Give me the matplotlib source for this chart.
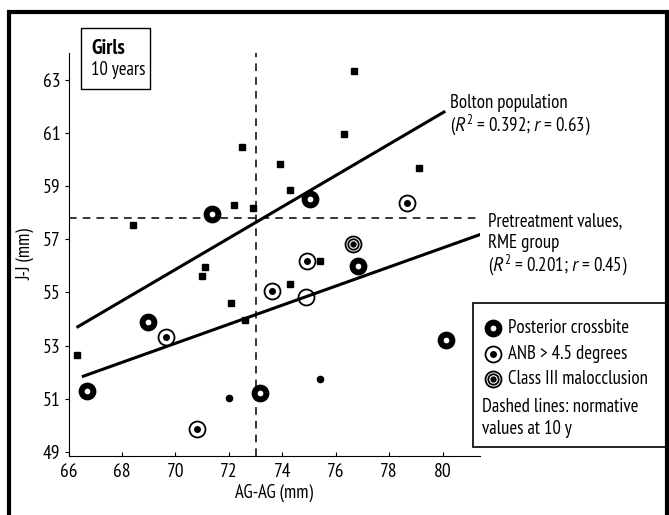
import matplotlib.pyplot as plt
from matplotlib.lines import Line2D
from matplotlib.patches import Rectangle

plt.rcParams['font.family'] = ['PT Sans Narrow', 'DejaVu Sans']
plt.rcParams['mathtext.fontset'] = 'custom'
plt.rcParams['mathtext.rm'] = 'PT Sans Narrow'
plt.rcParams['mathtext.it'] = 'PT Sans:italic'

# Bolton population (filled squares)
sq_x = [68.4, 72.5, 72.2, 72.9, 76.7, 76.3, 73.9, 74.3, 79.1, 71.1, 71.0, 72.1, 72.6, 66.3, 75.4, 74.3]
sq_y = [57.55, 60.45, 58.3, 58.17, 63.34, 60.97, 59.82, 58.85, 59.66, 55.96, 55.6, 54.62, 53.95, 52.63, 56.18, 55.33]
# RME group, no special feature (small dots)
dot_x = [72.0, 75.4]
dot_y = [51.02, 51.74]
# posterior crossbite
pc_x = [71.36, 75.02, 68.99, 66.7, 73.15, 76.82, 80.11]
pc_y = [57.93, 58.5, 53.89, 51.29, 51.23, 55.98, 53.2]
# ANB > 4.5 degrees
anb_x = [69.65, 70.8, 74.92, 73.61, 78.67]
anb_y = [53.31, 49.88, 56.18, 55.07, 58.37]
# open ring on RME line
ring_x = [74.88]
ring_y = [54.81]
# class III malocclusion
c3_x = [76.63]
c3_y = [56.81]

# regression lines (end points)
bolton_x = [66.3, 80.1]
bolton_y = [53.68, 61.81]
rme_x = [66.5, 81.5]
rme_y = [51.83, 57.21]

# normative values at 10 y
norm_x = 73.0
norm_y = 57.8

xticks = [66, 68, 70, 72, 74, 76, 78, 80]
yticks = [49, 51, 53, 55, 57, 59, 61, 63]

W, H = 669, 515
FS = 13.5


def fx(p):
    return p / W


def fy(p):
    return 1 - p / H


fig = plt.figure(figsize=(W / 100, H / 100), dpi=100)
ax = fig.add_axes([fx(68.5), fy(456), fx(480) - fx(68.5), fy(53) - fy(456)])
ax.set_xlim(66, 81.4)
ax.set_ylim(48.85, 64.0)
ax.spines['top'].set_visible(False)
ax.spines['right'].set_visible(False)
ax.set_xticks(xticks)
ax.set_yticks(yticks)
ax.tick_params(axis='x', direction='in', length=3, labelsize=14, pad=5)
ax.tick_params(axis='y', direction='out', length=3, labelsize=14, pad=3)
ax.set_xlabel('AG-AG (mm)', fontsize=FS, labelpad=2)
ax.set_ylabel('J-J (mm)', fontsize=FS, labelpad=6)

# dashed normative lines
ax.plot([norm_x, norm_x], [48.85, 64.0], 'k--', lw=1.1, dashes=(5, 4))
ax.plot([66, 81.4], [norm_y, norm_y], 'k--', lw=1.1, dashes=(5, 4))

# regression lines
ax.plot(bolton_x, bolton_y, 'k-', lw=2.2, solid_capstyle='butt')
ax.plot(rme_x, rme_y, 'k-', lw=2.2, solid_capstyle='butt')

ax.plot(sq_x, sq_y, 's', color='k', ms=4.5, ls='none')
ax.plot(dot_x, dot_y, 'o', color='k', ms=4.5, ls='none')

ring = dict(ls='none', marker='o', mfc='white', mec='k', ms=11.5, mew=1.3)
ax.plot(anb_x, anb_y, **ring)
ax.plot(anb_x, anb_y, 'o', color='k', ms=4, ls='none')
ax.plot(ring_x, ring_y, ls='none', marker='o', mfc='none', mec='k', ms=11.5, mew=1.3)
ax.plot(c3_x, c3_y, **ring)
ax.plot(c3_x, c3_y, ls='none', marker='o', mfc='white', mec='k', ms=7.5, mew=1.3)
ax.plot(c3_x, c3_y, 'o', color='k', ms=3.5, ls='none')
ax.plot(pc_x, pc_y, ls='none', marker='o', mfc='white', mec='k', ms=8.5, mew=4.3)

# line annotations
fig.text(fx(450), fy(103), 'Bolton population', fontsize=FS, va='center')
fig.text(fx(450), fy(125), '($\\it{R}^2$ = 0.392; $\\it{r}$ = 0.63)', fontsize=FS, va='center')
fig.text(fx(488), fy(221), 'Pretreatment values,', fontsize=FS, va='center')
fig.text(fx(488), fy(243), 'RME group', fontsize=FS, va='center')
fig.text(fx(488), fy(265), '($\\it{R}^2$ = 0.201; $\\it{r}$ = 0.45)', fontsize=FS, va='center')

# Girls box
fig.add_artist(Rectangle((fx(81), fy(89)), fx(150) - fx(81), fy(28) - fy(89),
                         transform=fig.transFigure, fill=False, ec='k', lw=1))
fig.text(fx(91), fy(48), 'Girls', fontsize=15, fontweight='bold', va='center')
fig.text(fx(91), fy(70), '10 years', fontsize=FS, va='center')

# legend box
fig.add_artist(Rectangle((fx(473), fy(447)), fx(667) - fx(473), fy(303) - fy(447),
                         transform=fig.transFigure, fill=False, ec='k', lw=1.2))
leg_y = [328, 354, 379]
leg_txt = ['Posterior crossbite', 'ANB > 4.5 degrees', 'Class III malocclusion']
mx = fx(493)
fig.add_artist(Line2D([mx], [fy(leg_y[0])], transform=fig.transFigure, ls='none',
                      marker='o', mfc='white', mec='k', ms=8.5, mew=4.3))
fig.add_artist(Line2D([mx], [fy(leg_y[1])], transform=fig.transFigure, **ring))
fig.add_artist(Line2D([mx], [fy(leg_y[1])], transform=fig.transFigure, ls='none',
                      marker='o', color='k', ms=4))
fig.add_artist(Line2D([mx], [fy(leg_y[2])], transform=fig.transFigure, **ring))
fig.add_artist(Line2D([mx], [fy(leg_y[2])], transform=fig.transFigure, ls='none',
                      marker='o', mfc='white', mec='k', ms=7.5, mew=1.3))
fig.add_artist(Line2D([mx], [fy(leg_y[2])], transform=fig.transFigure, ls='none',
                      marker='o', color='k', ms=3.5))
for yy, t in zip(leg_y, leg_txt):
    fig.text(fx(508), fy(yy), t, fontsize=FS, va='center')
fig.text(fx(482), fy(407), 'Dashed lines: normative', fontsize=FS, va='center')
fig.text(fx(482), fy(429), 'values at 10 y', fontsize=FS, va='center')

# outer frame
fig.add_artist(Rectangle((fx(9), fy(530)), fx(667) - fx(9), fy(12) - fy(530),
                         transform=fig.transFigure, fill=False, ec='k', lw=3, clip_on=False))

fig.savefig('out.png', dpi=100)
